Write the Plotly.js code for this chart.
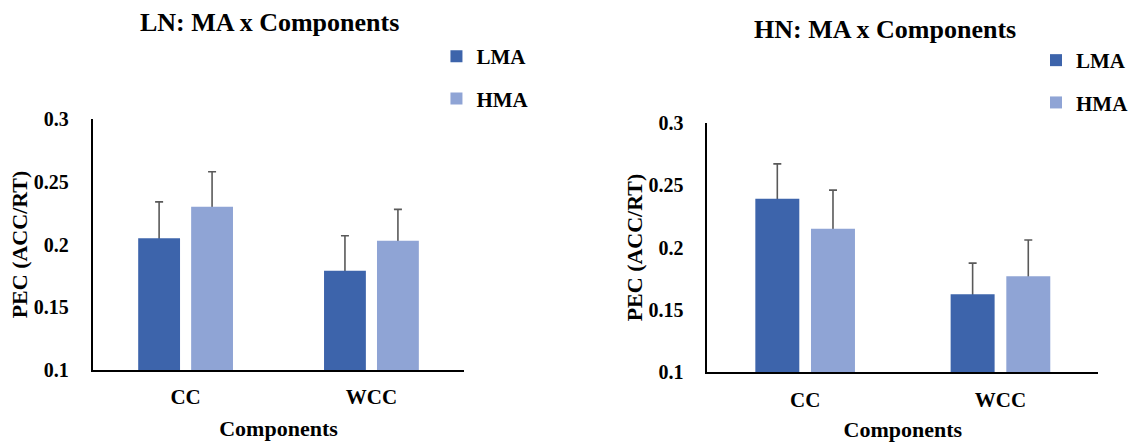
<!DOCTYPE html>
<html>
<head>
<meta charset="utf-8">
<script src="https://cdn.plot.ly/plotly-3.0.1.min.js"></script>
<style>
html,body{margin:0;padding:0;background:#fff;}
#chart{width:1134px;height:442px;}
#chart svg text{font-family:"Liberation Serif","Times New Roman",serif !important;font-weight:bold !important;}
</style>
</head>
<body>
<div id="chart"></div>
<script>
// ---- Data ----
const categories = ["CC", "WCC"];
const seriesNames = ["LMA", "HMA"];

const lnLMA = [0.205, 0.179];
const lnLMAErr = [0.029, 0.028];
const lnHMA = [0.230, 0.203];
const lnHMAErr = [0.028, 0.025];

const hnLMA = [0.239, 0.1625];
const hnLMAErr = [0.028, 0.025];
const hnHMA = [0.215, 0.177];
const hnHMAErr = [0.031, 0.029];

const yTickVals = [0.1, 0.15, 0.2, 0.25, 0.3];
const yTickText = ["0.1", "0.15", "0.2", "0.25", "0.3"];

const panelTitles = ["LN: MA x Components", "HN: MA x Components"];
const xTitle = "Components";
const yTitle = "PEC (ACC/RT)";

// ---- Styles ----
const FONT = "Liberation Serif";
const cLMA = "#3d64ab";
const cHMA = "#8fa4d5";
const errStyle = {color: "#595959", thickness: 1.6, width: 4};

// error-bar layer (transparent bars, drawn underneath) on base axes
function errBar(name, y, err, xa, ya, group) {
  return {
    type: "bar", name: name, x: categories, y: y,
    marker: {color: "rgba(0,0,0,0)", line: {width: 0}},
    error_y: {type: "data", symmetric: true, array: err, ...errStyle},
    xaxis: xa, yaxis: ya, showlegend: false, legendgroup: group, hoverinfo: "skip"
  };
}
// visible bars on overlaying axes (drawn on top, hiding the lower half of the error bars)
function bar(name, y, color, xa, ya, lg, group) {
  return {
    type: "bar", name: name, x: categories, y: y,
    marker: {color: color, line: {width: 0}},
    xaxis: xa, yaxis: ya, legend: lg, legendgroup: group, hoverinfo: "skip"
  };
}

const data = [
  errBar(seriesNames[0], lnLMA, lnLMAErr, "x", "y", "a"),
  errBar(seriesNames[1], lnHMA, lnHMAErr, "x", "y", "b"),
  errBar(seriesNames[0], hnLMA, hnLMAErr, "x2", "y2", "c"),
  errBar(seriesNames[1], hnHMA, hnHMAErr, "x2", "y2", "d"),
  bar(seriesNames[0], lnLMA, cLMA, "x3", "y3", "legend", "a"),
  bar(seriesNames[1], lnHMA, cHMA, "x3", "y3", "legend", "b"),
  bar(seriesNames[0], hnLMA, cLMA, "x4", "y4", "legend2", "c"),
  bar(seriesNames[1], hnHMA, cHMA, "x4", "y4", "legend2", "d")
];

const W = 1134, H = 442;
const yTickFont = {family: FONT, size: 20, color: "#000", weight: "bold"};
const xTickFont = {family: FONT, size: 21, color: "#000", weight: "bold"};
const titleFont = {family: FONT, size: 22, color: "#000", weight: "bold"};

function xax(x0, x1) {
  return {
    domain: [x0 / W, x1 / W], type: "category",
    showline: true, linecolor: "#000", linewidth: 2,
    showgrid: false, zeroline: false, ticks: "", ticklabelstandoff: 7,
    tickfont: xTickFont, fixedrange: true,
    title: {text: xTitle, font: titleFont, standoff: 12}
  };
}
function yax(yTop, yBot, anchor) {
  return {
    domain: [(H - yBot) / H, (H - yTop) / H], range: [0.1, 0.3],
    tickvals: yTickVals, ticktext: yTickText, anchor: anchor,
    showline: true, linecolor: "#000", linewidth: 2,
    showgrid: false, zeroline: false, ticks: "", ticklabelstandoff: 18,
    tickfont: yTickFont, fixedrange: true,
    title: {text: yTitle, font: titleFont, standoff: 0}
  };
}
function overX(base, x0, x1, anchor) {
  return {overlaying: base, domain: [x0 / W, x1 / W], type: "category", anchor: anchor,
          visible: false, showgrid: false, zeroline: false, fixedrange: true};
}
function overY(base, yTop, yBot, anchor) {
  return {overlaying: base, domain: [(H - yBot) / H, (H - yTop) / H], range: [0.1, 0.3], anchor: anchor,
          visible: false, showgrid: false, zeroline: false, fixedrange: true};
}

const legendBase = {
  font: {family: FONT, size: 21, color: "#000", weight: "bold"},
  xanchor: "left", yanchor: "top", bgcolor: "rgba(0,0,0,0)",
  traceorder: "grouped", tracegroupgap: 12, itemwidth: 30
};

const layout = {
  width: W, height: H,
  font: {family: FONT, color: "#000", weight: "bold"},
  margin: {l: 0, r: 0, t: 0, b: 0, pad: 0},
  paper_bgcolor: "#fff", plot_bgcolor: "rgba(0,0,0,0)",
  barmode: "group", bargap: 0.43, bargroupgap: 0.21,
  showlegend: true,
  xaxis: Object.assign(xax(93, 466), {anchor: "y"}),
  yaxis: yax(119, 370, "x"),
  xaxis2: Object.assign(xax(710, 1102), {anchor: "y2"}),
  yaxis2: yax(122.7, 372.3, "x2"),
  xaxis3: overX("x", 93, 466, "y3"),
  yaxis3: overY("y", 119, 370, "x3"),
  xaxis4: overX("x2", 710, 1102, "y4"),
  yaxis4: overY("y2", 122.7, 372.3, "x4"),
  legend: Object.assign({}, legendBase, {x: 438 / W, y: 1 - 36 / H}),
  legend2: Object.assign({}, legendBase, {x: 1040 / W, y: 1 - 40 / H}),
  annotations: [
    {text: panelTitles[0], xref: "paper", yref: "paper", x: 270 / W, y: 1 - 22 / H,
     xanchor: "center", yanchor: "middle", showarrow: false,
     font: {family: FONT, size: 26, color: "#000", weight: "bold"}},
    {text: panelTitles[1], xref: "paper", yref: "paper", x: 888 / W, y: 1 - 30 / H,
     xanchor: "center", yanchor: "middle", showarrow: false,
     font: {family: FONT, size: 26, color: "#000", weight: "bold"}}
  ]
};

Plotly.newPlot("chart", data, layout, {displayModeBar: false, staticPlot: true});
</script>
</body>
</html>
